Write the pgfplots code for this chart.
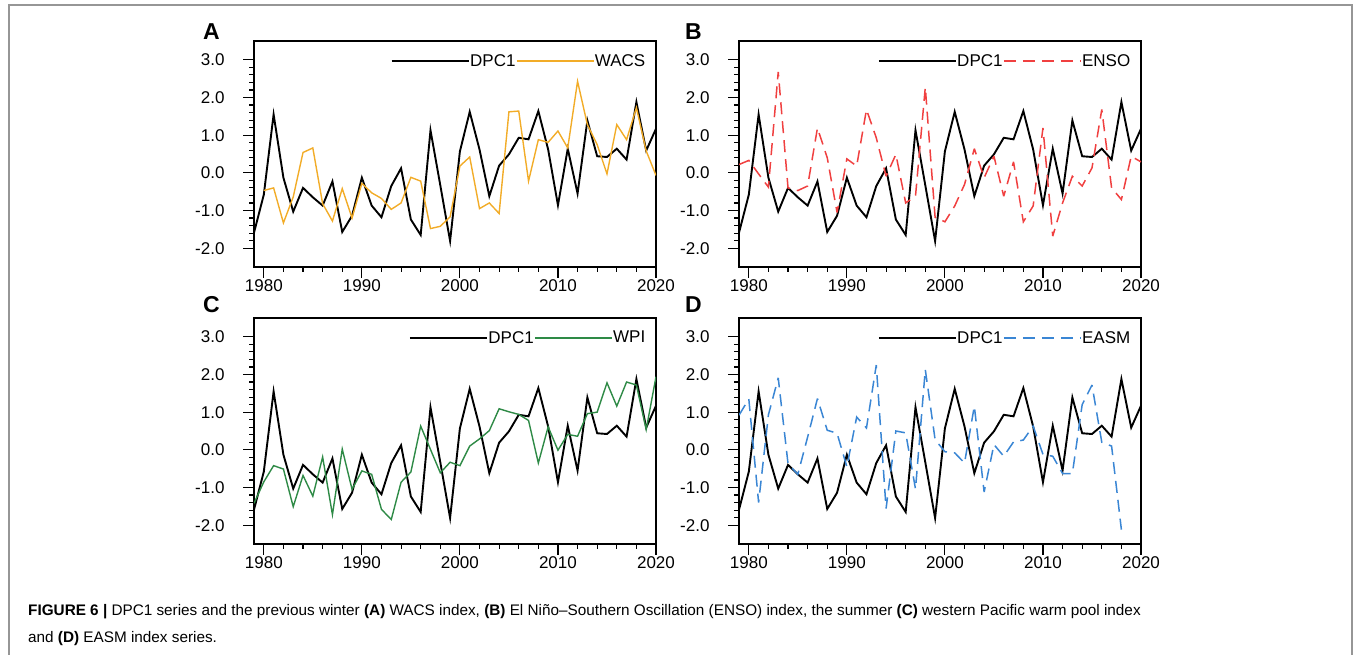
\documentclass[border=0pt]{standalone}
\usepackage{pgfplots}
\pgfplotsset{compat=1.18}
\usepackage{fontspec}
\setmainfont{Liberation Sans}
\definecolor{wacs}{RGB}{242,172,40}
\definecolor{enso}{RGB}{240,64,64}
\definecolor{wpi}{RGB}{46,138,70}
\definecolor{easm}{RGB}{58,134,212}
\definecolor{frame}{RGB}{150,150,150}

\pgfplotsset{
  panel/.style={
    scale only axis, width=402pt, height=226pt,
    xmin=1979, xmax=2020, ymin=-2.5, ymax=3.5,
    xtick={1980,1990,2000,2010,2020},
    xticklabels={1980,1990,2000,2010,2020},
    ytick={-2,-1,0,1,2,3},
    yticklabels={-2.0,-1.0,0.0,1.0,2.0,3.0},
    minor x tick num=4, minor y tick num=4,
    tick align=outside, tick pos=left,
    major tick length=11pt, minor tick length=5pt,
    every tick/.style={black, line width=1.1pt},
    axis line style={line width=1.3pt},
    ticklabel style={font=\fontsize{17}{17}\selectfont},
    yticklabel style={xshift=-15pt},
    xticklabel style={yshift=2pt},
    legend style={draw=none, fill=none, at={(axis description cs:0.975,0.912)}, anchor=east,
      font=\fontsize{17}{17}\selectfont, inner sep=0pt,
      /tikz/every even column/.style={column sep=0pt},
      nodes={inner sep=0.5pt}},
    legend columns=2,
    legend image code/.code={\draw[#1] (0pt,0pt) -- (77pt,0pt);},
  }
}

\pgfplotstableread{
year v
1979 -1.59
1980 -0.58
1981 1.55
1982 -0.13
1983 -1.03
1984 -0.40
1985 -0.65
1986 -0.87
1987 -0.23
1988 -1.57
1989 -1.14
1990 -0.13
1991 -0.87
1992 -1.18
1993 -0.35
1994 0.12
1995 -1.24
1996 -1.65
1997 1.13
1998 -0.33
1999 -1.81
2000 0.57
2001 1.62
2002 0.62
2003 -0.62
2004 0.19
2005 0.49
2006 0.93
2007 0.89
2008 1.64
2009 0.62
2010 -0.86
2011 0.64
2012 -0.55
2013 1.39
2014 0.44
2015 0.42
2016 0.64
2017 0.35
2018 1.88
2019 0.59
2020 1.17
}\dpc

\pgfplotstableread{
year v
1980 -0.47
1981 -0.40
1982 -1.33
1983 -0.64
1984 0.54
1985 0.66
1986 -0.82
1987 -1.28
1988 -0.42
1989 -1.20
1990 -0.28
1991 -0.53
1992 -0.68
1993 -0.97
1994 -0.80
1995 -0.12
1996 -0.22
1997 -1.48
1998 -1.42
1999 -1.17
2000 0.18
2001 0.42
2002 -0.95
2003 -0.80
2004 -1.08
2005 1.62
2006 1.64
2007 -0.22
2008 0.88
2009 0.81
2010 1.11
2011 0.66
2012 2.43
2013 1.28
2014 0.75
2015 -0.03
2016 1.28
2017 0.88
2018 1.73
2019 0.58
2020 -0.07
}\wacs

\pgfplotstableread{
year v
1979 0.22
1980 0.33
1981 -0.03
1982 -0.38
1983 2.68
1984 -0.40
1985 -0.47
1986 -0.35
1987 1.19
1988 0.40
1989 -1.05
1990 0.37
1991 0.18
1992 1.68
1993 0.93
1994 -0.09
1995 0.49
1996 -0.80
1997 -0.62
1998 2.27
1999 -1.18
2000 -1.30
2001 -0.88
2002 -0.31
2003 0.64
2004 -0.13
2005 0.44
2006 -0.62
2007 0.29
2008 -1.30
2009 -0.88
2010 1.19
2011 -1.68
2012 -0.80
2013 -0.09
2014 -0.35
2015 0.13
2016 1.68
2017 -0.40
2018 -0.71
2019 0.44
2020 0.29
}\enso

\pgfplotstableread{
year v
1979 -1.42
1980 -0.85
1981 -0.42
1982 -0.51
1983 -1.51
1984 -0.68
1985 -1.23
1986 -0.19
1987 -1.72
1988 0.02
1989 -1.05
1990 -0.56
1991 -0.65
1992 -1.58
1993 -1.85
1994 -0.86
1995 -0.59
1996 0.63
1997 0.01
1998 -0.61
1999 -0.33
2000 -0.42
2001 0.10
2002 0.29
2003 0.51
2004 1.09
2005 1.01
2006 0.94
2007 0.78
2008 -0.35
2009 0.61
2010 -0.01
2011 0.41
2012 0.36
2013 0.96
2014 1.00
2015 1.78
2016 1.16
2017 1.80
2018 1.72
2019 0.54
2020 1.94
}\wpi

\pgfplotstableread{
year v
1979 0.92
1980 1.35
1981 -1.40
1982 0.93
1983 1.91
1984 -0.37
1985 -0.65
1986 0.34
1987 1.36
1988 0.52
1989 0.44
1990 -0.45
1991 0.87
1992 0.58
1993 2.25
1994 -1.56
1995 0.50
1996 0.45
1997 -1.04
1998 2.13
1999 0.27
2000 -0.05
2001 -0.08
2002 -0.35
2003 1.16
2004 -1.12
2005 0.14
2006 -0.17
2007 0.21
2008 0.26
2009 0.63
2010 -0.12
2011 -0.17
2012 -0.63
2013 -0.63
2014 1.20
2015 1.72
2016 0.20
2017 0.10
2018 -2.12
}\easm

\begin{document}
\begin{tikzpicture}[x=1pt,y=1pt]
\useasboundingbox (0,0) rectangle (1357,655);
\draw[frame, line width=1.6pt] (9,0) -- (9,650) -- (1352,650) -- (1352,0);

% Panel A
\begin{axis}[panel, at={(254pt,388pt)}, anchor=south west]
\addplot[black, line width=1.9pt] table[x=year,y=v] {\dpc};
\addlegendentry{DPC1}
\addplot[wacs, line width=1.4pt] table[x=year,y=v] {\wacs};
\addlegendentry{WACS}
\end{axis}

% Panel B
\begin{axis}[panel, at={(739pt,388pt)}, anchor=south west]
\addplot[black, line width=1.9pt] table[x=year,y=v] {\dpc};
\addlegendentry{DPC1}
\addplot[enso, line width=1.5pt, dash pattern=on 12pt off 7pt, miter limit=3] table[x=year,y=v] {\enso};
\addlegendentry{ENSO}
\end{axis}

% Panel C
\begin{axis}[panel, at={(254pt,111pt)}, anchor=south west]
\addplot[black, line width=1.9pt] table[x=year,y=v] {\dpc};
\addlegendentry{DPC1}
\addplot[wpi, line width=1.4pt] table[x=year,y=v] {\wpi};
\addlegendentry{WPI}
\end{axis}

% Panel D
\begin{axis}[panel, at={(739pt,111pt)}, anchor=south west]
\addplot[black, line width=1.9pt] table[x=year,y=v] {\dpc};
\addlegendentry{DPC1}
\addplot[easm, line width=1.5pt, dash pattern=on 12pt off 7pt, miter limit=3] table[x=year,y=v] {\easm};
\addlegendentry{EASM}
\end{axis}

\begin{scope}[every node/.style={inner sep=0pt, font=\bfseries\fontsize{23}{23}\selectfont}]
\node[anchor=north west] at (203,632) {A};
\node[anchor=north west] at (685,632) {B};
\node[anchor=north west] at (203,359) {C};
\node[anchor=north west] at (685,359) {D};
\end{scope}

\begin{scope}[every node/.style={inner sep=0pt, anchor=base west, font=\fontsize{15.3}{15.3}\selectfont}]
\node at (28,39.5) {\textbf{FIGURE 6 |} DPC1 series and the previous winter \textbf{(A)} WACS index, \textbf{(B)} El Niño–Southern Oscillation (ENSO) index, the summer \textbf{(C)} western Pacific warm pool index};
\node at (28,12.5) {and \textbf{(D)} EASM index series.};
\end{scope}
\end{tikzpicture}
\end{document}
